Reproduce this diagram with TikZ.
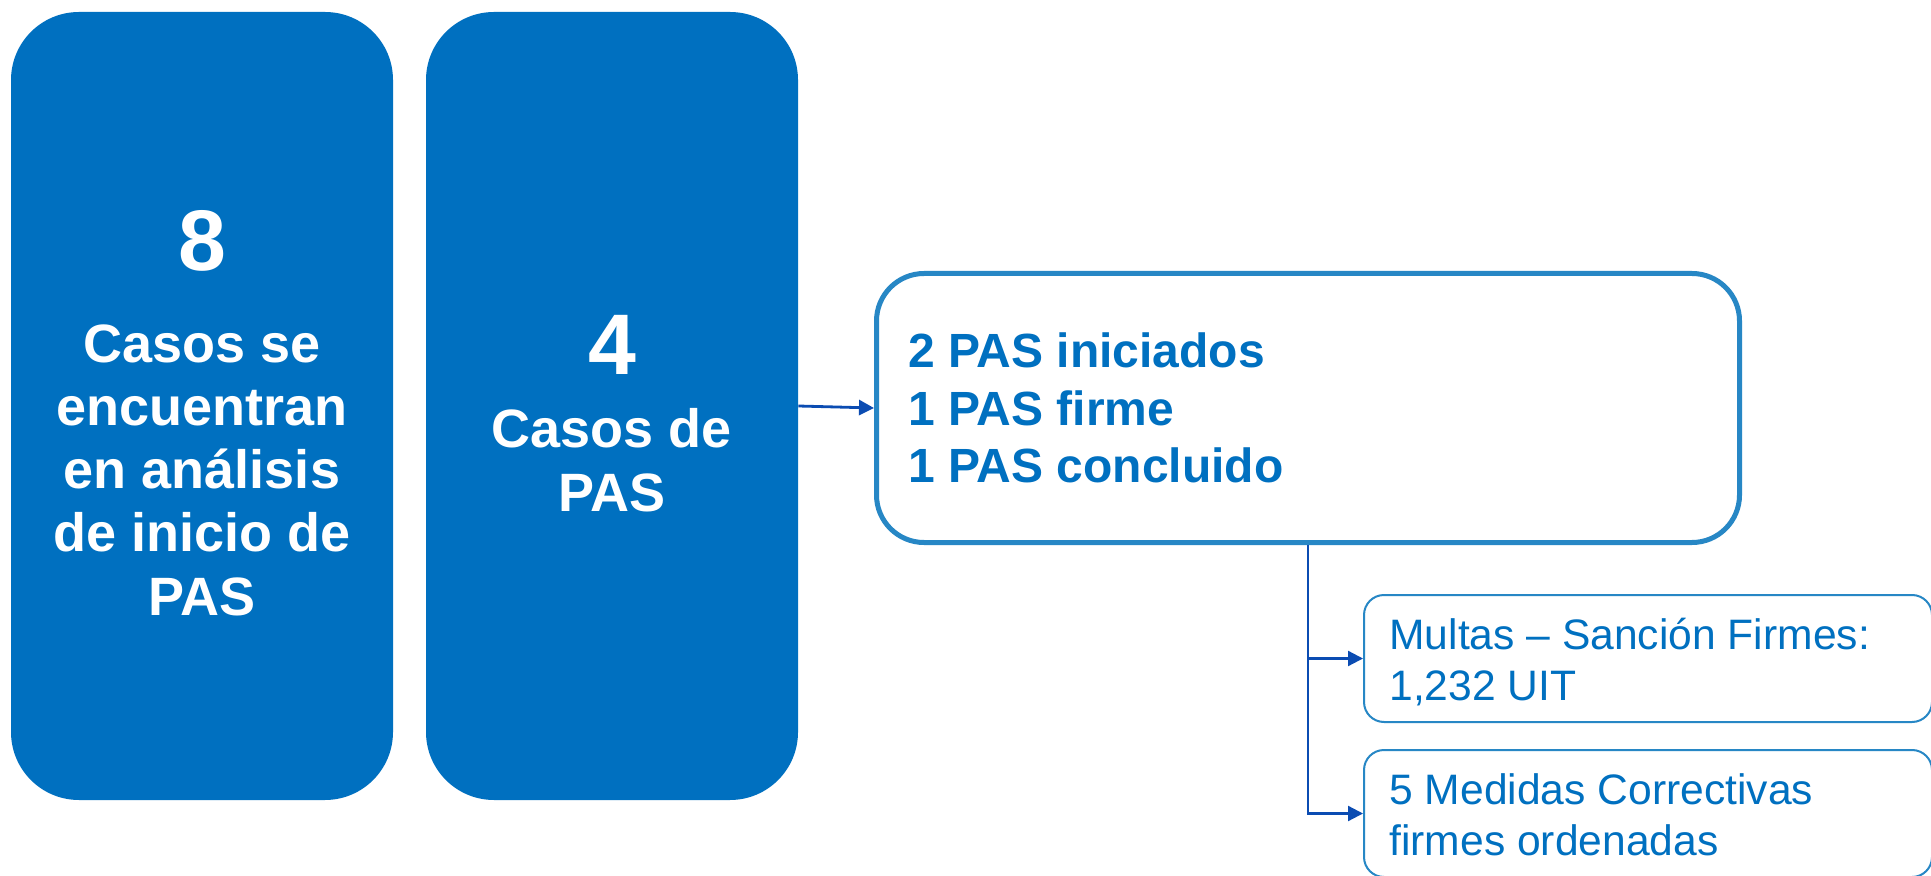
\documentclass[tikz,border=0pt]{standalone}
\usepackage{fontspec}
\setmainfont{Liberation Sans}
\usetikzlibrary{arrows.meta}
\definecolor{boxblue}{HTML}{0070C0}
\definecolor{edgeblue}{HTML}{2787C5}
\definecolor{linkblue}{HTML}{0B4CB2}
\begin{document}
\begin{tikzpicture}[x=0.5pt,y=-0.5pt,
  solidbox/.style={fill=boxblue, rounded corners=34pt, minimum width=191pt, minimum height=394pt, inner sep=0pt},
  bignum/.style={font=\fontsize{43}{50}\selectfont\bfseries, text=white, inner sep=0pt},
  whitetext/.style={font=\fontsize{27}{31.6}\selectfont\bfseries, text=white, align=center, anchor=base, inner sep=0pt},
  outlinebox/.style={draw=edgeblue, line width=2.5pt, rounded corners=23.75pt, minimum width=431.5pt, minimum height=134.5pt, inner sep=0pt},
  smallbox/.style={draw=edgeblue, line width=1pt, rounded corners=10pt, minimum width=284pt, minimum height=63.5pt, inner sep=0pt},
  bluebold/.style={font=\fontsize{24}{28.75}\selectfont\bfseries, text=boxblue, align=left, anchor=base west, inner sep=0pt},
  bluereg/.style={font=\fontsize{21.3}{25.5}\selectfont, text=boxblue, align=left, anchor=base west, inner sep=0pt},
  link/.style={draw=linkblue, -{Triangle[length=7.5pt,width=7.5pt]}}
]
\clip (0,0) rectangle (1931,876);
\fill[white] (0,0) rectangle (1931,876);

\node[solidbox] (b1) at (202,406) {};
\node[solidbox, minimum width=186pt] (b2) at (612,406) {};

\node[bignum] (n8) at (202,241) {8};
\node[whitetext] (t1) at (202,615) {Casos se\\encuentran\\en análisis\\de inicio de\\PAS};

\node[bignum] (n4) at (612,345) {4};
\node[whitetext] (t2) at (612,511) {Casos de\\PAS};

\node[outlinebox] (big) at (1308,408) {};
\node[bluebold] (t3) at (908,483) {2 PAS iniciados\\1 PAS firme\\1 PAS concluido};

\node[smallbox] (s1) at (1648,658.5) {};
\node[smallbox] (s2) at (1648,813.5) {};
\node[bluereg] (t4) at (1389,700) {Multas – Sanción Firmes:\\1,232 UIT};
\node[bluereg] (t5) at (1389,855) {5 Medidas Correctivas\\firmes ordenadas};

\draw[link, line width=1.4pt] (b2.east) -- (big.west);
\draw[link, line width=1.1pt] (big.south) |- (s1.west);
\draw[link, line width=1.1pt] (big.south) |- (s2.west);
\end{tikzpicture}
\end{document}
